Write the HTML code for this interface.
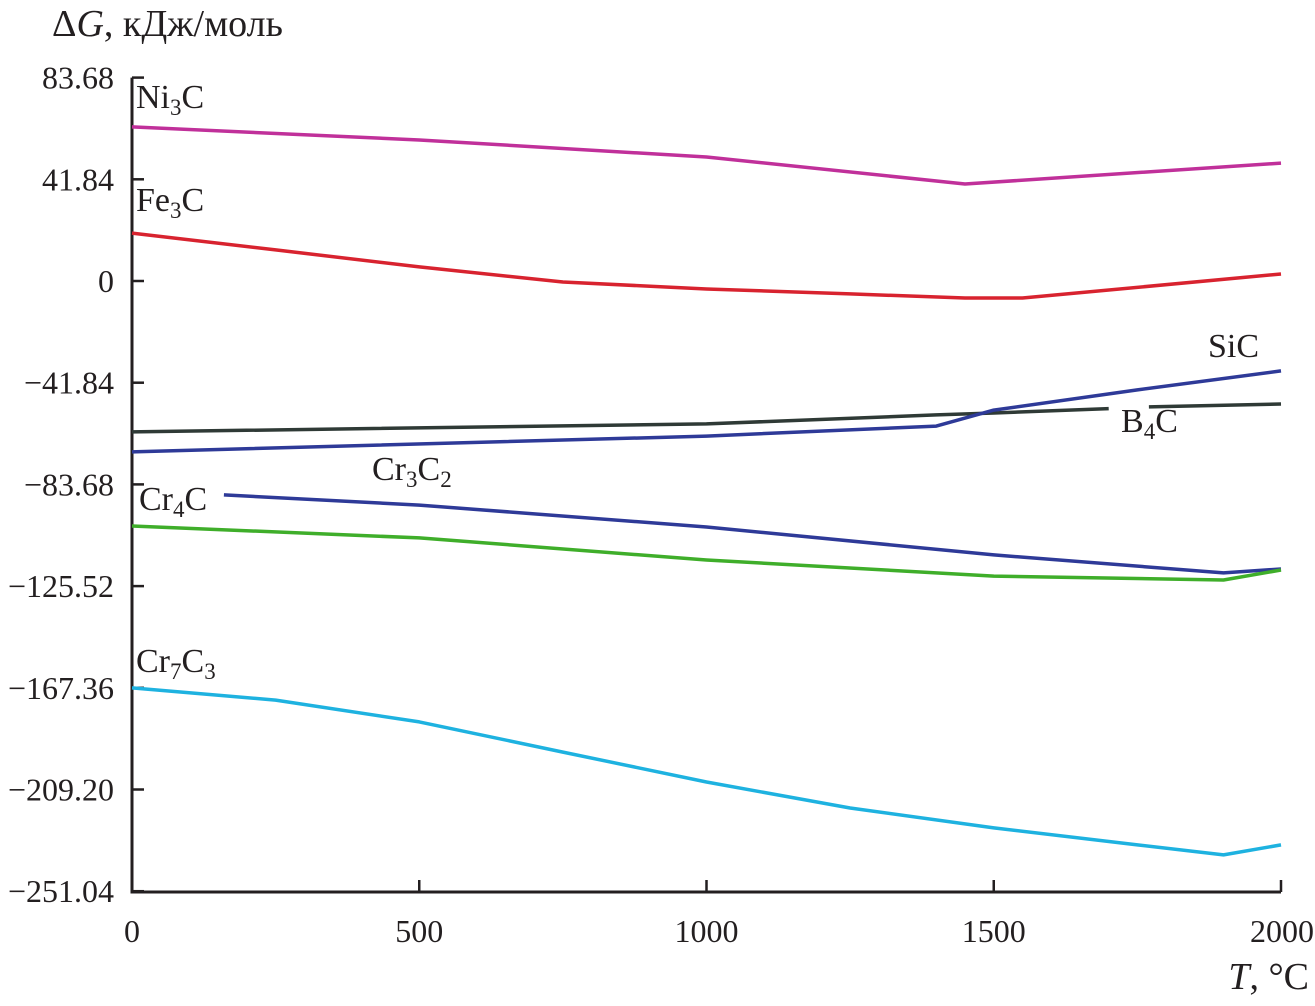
<!DOCTYPE html>
<html><head><meta charset="utf-8"><style>
body{margin:0;background:#fff;}
svg text{font-family:"Liberation Serif",serif;fill:#231f20;}
</style></head><body>
<svg id="chart" width="1315" height="1001" viewBox="0 0 1315 1001" xmlns="http://www.w3.org/2000/svg">
<g id="axes"></g>
<g id="series"></g>
<g id="labels"></g>
</svg>
<script>
const yTicks=[83.68,41.84,0,-41.84,-83.68,-125.52,-167.36,-209.2,-251.04];
const yTickLabels=["83.68","41.84","0","\u221241.84","\u221283.68","\u2212125.52","\u2212167.36","\u2212209.20","\u2212251.04"];
const xTicks=[0,500,1000,1500,2000];
const ni3cT=[0,500,1000,1450,2000];
const ni3cV=[63.4,58,51,39.9,48.5];
const fe3cT=[0,250,500,750,1000,1250,1450,1550,2000];
const fe3cV=[19.7,12.8,5.8,-0.4,-3.3,-5.3,-7,-7,2.9];
const b4cT=[0,1000,1400,1500,1700];
const b4cV=[-62.1,-58.8,-55.1,-54.3,-52.5];
const b4cT2=[1770,2000];
const b4cV2=[-51.8,-50.6];
const sicT=[0,1000,1400,1500,1750,2000];
const sicV=[-70.3,-63.8,-59.7,-53.1,-44.8,-37];
const cr3c2T=[160,500,1000,1500,1900,2000];
const cr3c2V=[-88,-92.2,-101.2,-112.7,-120.1,-118.5];
const cr4cT=[0,500,1000,1500,1900,2000];
const cr4cV=[-100.8,-105.7,-114.8,-121.4,-123,-118.9];
const cr7c3T=[0,250,500,750,1000,1250,1500,1750,1900,2000];
const cr7c3V=[-167.4,-172.4,-181.4,-193.8,-206.1,-216.8,-225,-232,-236.1,-232];

const X0=132,X1=1281,Y0=281,PX=101.7/41.84;
const xs=t=>X0+(t/2000)*(X1-X0);
const ys=v=>Y0-v*PX;
const NS="http://www.w3.org/2000/svg";
function mk(tag,parent,attrs){const e=document.createElementNS(NS,tag);for(const k in attrs)e.setAttribute(k,attrs[k]);parent.appendChild(e);return e;}
const axes=document.getElementById('axes');
let a=mk('path',axes,{d:`M${X0} ${ys(83.68)} V892 H${X1}`,fill:'none',stroke:'#231f20','stroke-width':3});


yTicks.forEach((v,i)=>{
 const tk=mk('line',axes,{x1:X0,x2:X0+12,y1:ys(v),y2:ys(v),stroke:'#231f20','stroke-width':2.5});
 
 
 const tx=mk('text',axes,{x:114,y:ys(v)+11,'text-anchor':'end','font-size':32});
 tx.textContent=yTickLabels[i];
 
 
});
xTicks.forEach(t=>{
 const tk=mk('line',axes,{x1:xs(t),x2:xs(t),y1:892,y2:880,stroke:'#231f20','stroke-width':2.5});
 
 
 const tx=mk('text',axes,{x:t===2000?xs(t)+1:xs(t),y:942,'text-anchor':'middle','font-size':32});
 tx.textContent=String(t);
 
 
});
const yt=mk('text',axes,{x:52,y:36,'font-size':38});
yt.innerHTML='\u0394<tspan font-style="italic">G</tspan>, кДж/моль';


const xt=mk('text',axes,{x:1309,y:989,'text-anchor':'end','font-size':38});
xt.innerHTML='<tspan font-style="italic">T</tspan>, °C';



const ser=document.getElementById('series');
function line(T,V,color,name){
 const d=T.map((t,i)=>(i?'L':'M')+xs(t).toFixed(1)+' '+ys(V[i]).toFixed(1)).join(' ');
 const p=mk('path',ser,{d:d,fill:'none',stroke:color,'stroke-width':3.5,'stroke-linejoin':'round'});
 
 
}
line(ni3cT,ni3cV,'#c0309a','ni3c-line');
line(fe3cT,fe3cV,'#d8232f','fe3c-line');
line(b4cT,b4cV,'#2f3a36','b4c-line');
line(b4cT2,b4cV2,'#2f3a36','b4c-line-end');
line(sicT,sicV,'#2e3a98','sic-line');
line(cr3c2T,cr3c2V,'#2e3a98','cr3c2-line');
line(cr4cT,cr4cV,'#3fae2a','cr4c-line');
line(cr7c3T,cr7c3V,'#1eb2e0','cr7c3-line');

const lab=document.getElementById('labels');
function label(x,y,main,sub,tail,name){
 const t=mk('text',lab,{x:x,y:y,'font-size':34});
 t.innerHTML=main+'<tspan font-size="23" dy="7">'+sub+'</tspan><tspan dy="-7">'+tail+'</tspan>';
 
 
}
label(136,108,'Ni','3','C','ni3c-label');
label(136,211,'Fe','3','C','fe3c-label');
label(1208,357,'SiC','','','sic-label');
label(1121,432,'B','4','C','b4c-label');
label(372,480,'Cr','3','C<tspan font-size="23" dy="7">2</tspan>','cr3c2-label');
label(139,510,'Cr','4','C','cr4c-label');
label(136,672,'Cr','7','C<tspan font-size="23" dy="7">3</tspan>','cr7c3-label');
</script>
</body></html>
